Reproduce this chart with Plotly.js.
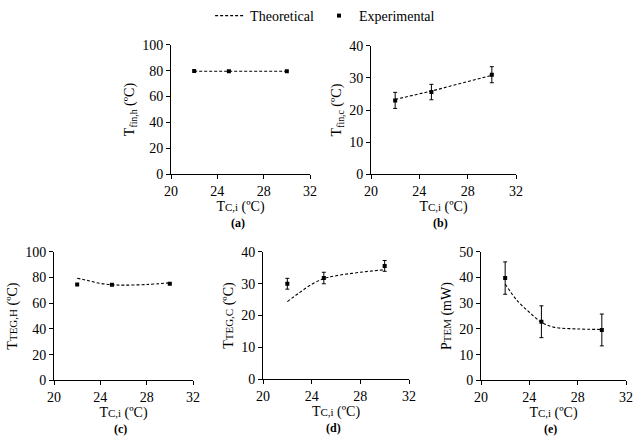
<!DOCTYPE html>
<html>
<head>
<meta charset="utf-8">
<script src="https://cdn.plot.ly/plotly-3.0.1.min.js"></script>
<style>
  html, body { margin: 0; padding: 0; background: #fff; }
  #grafica { width: 640px; height: 446px; }
</style>
</head>
<body>
<div id="grafica"></div>
<script>
// Temperatura de entrada del agua fria (ºC)
const tempExp = [22, 25, 30];
const tempTeo = [22, 23, 24, 25, 26, 28, 30];
const tempTeoRecta = [22, 25, 30];

// (a) T fin,h
const finHExp = [79.8, 79.6, 79.5];
const finHTeo = [79.6, 79.6, 79.6];

// (b) T fin,c
const finCExp = [23.0, 25.6, 31.0];
const finCErr = [2.5, 2.4, 2.5];
const finCTeo = [23.3, 25.9, 30.8];

// (c) T TEG,H
const tegHExp = [74.5, 74.3, 75.2];
const tegHTeo = [79.5, 77.5, 75.4, 74.4, 74.1, 74.6, 75.9];

// (d) T TEG,C
const tegCExp = [30.0, 31.8, 35.6];
const tegCErr = [1.7, 1.8, 1.7];
const tegCTeo = [24.4, 27.2, 29.8, 31.6, 32.5, 33.6, 34.4];

// (e) P TEM
const pTemExp = [39.8, 22.8, 19.6];
const pTemErr = [6.3, 6.2, 6.2];
const pTemTeo = [37.5, 31.0, 26.5, 22.6, 20.7, 20.0, 19.8];

const fuente = "Liberation Serif";
const px = (v) => v / 640;
const py = (v) => 1 - v / 446;
const chica = (t) => "<span style='font-size:11px'>" + t + "</span>";

const paneles = [
  { id: "", x: [171, 310], y: [43, 173], rango: [0, 100], paso: 20,
    titulo: "T<sub>fin,h</sub> (ºC)", etiqueta: "(a)", exp: finHExp, err: null,
    xt: tempTeoRecta, teo: finHTeo, curva: false },
  { id: "2", x: [371, 516], y: [44, 173], rango: [0, 40], paso: 10,
    titulo: "T<sub>fin,c</sub> (ºC)", etiqueta: "(b)", exp: finCExp, err: finCErr,
    xt: tempTeoRecta, teo: finCTeo, curva: false },
  { id: "3", x: [54, 193], y: [251, 380], rango: [0, 100], paso: 20,
    titulo: "T" + chica("TEG,H") + " (ºC)", etiqueta: "(c)", exp: tegHExp, err: null,
    xt: tempTeo, teo: tegHTeo, curva: true },
  { id: "4", x: [263, 409], y: [251, 379], rango: [0, 40], paso: 10,
    titulo: "T" + chica("TEG,C") + " (ºC)", etiqueta: "(d)", exp: tegCExp, err: tegCErr,
    xt: tempTeo, teo: tegCTeo, curva: true },
  { id: "5", x: [481, 626], y: [251, 380], rango: [0, 50], paso: 10,
    titulo: "P" + chica("TEM") + " (mW)", etiqueta: "(e)", exp: pTemExp, err: pTemErr,
    xt: tempTeo, teo: pTemTeo, curva: true }
];

const trazas = [];
const layout = {
  width: 640,
  height: 446,
  margin: { t: 0, b: 0, l: 0, r: 0 },
  paper_bgcolor: "#fff",
  plot_bgcolor: "#fff",
  font: { family: fuente, size: 14, color: "#000" },
  showlegend: true,
  legend: {
    orientation: "h",
    x: 0.508, xanchor: "center",
    y: py(14), yanchor: "middle",
    font: { family: fuente, size: 14, color: "#000" },
    itemwidth: 30,
    tracegroupgap: 0
  },
  annotations: []
};

paneles.forEach((p, i) => {
  const xa = "x" + p.id;
  const ya = "y" + p.id;

  trazas.push({
    type: "scatter",
    mode: "lines",
    x: p.xt,
    y: p.teo,
    xaxis: xa, yaxis: ya,
    name: "Theoretical",
    showlegend: i === 0,
    line: { color: "#000", width: 1.1, dash: "3px,2px", shape: p.curva ? "spline" : "linear" }
  });

  const exp = {
    type: "scatter",
    mode: "markers",
    x: tempExp,
    y: p.exp,
    xaxis: xa, yaxis: ya,
    name: "Experimental",
    showlegend: i === 0,
    marker: { color: "#000", symbol: "square", size: 4 }
  };
  if (p.err) {
    exp.error_y = { type: "data", array: p.err, visible: true, color: "#000", thickness: 1, width: 2 };
  }
  trazas.push(exp);

  layout["xaxis" + p.id] = {
    domain: [px(p.x[0]), px(p.x[1])],
    anchor: ya,
    range: [20, 32],
    tickvals: [20, 24, 28, 32],
    showgrid: false,
    zeroline: false,
    showline: true,
    linecolor: "#000",
    linewidth: 1,
    ticks: "outside",
    ticklen: 4,
    tickcolor: "#000",
    tickfont: { family: fuente, size: 14, color: "#000" },
    title: {
      text: "T" + chica("C,i") + " (ºC)",
      font: { family: fuente, size: 14, color: "#000" },
      standoff: 3
    }
  };
  layout["yaxis" + p.id] = {
    domain: [py(p.y[1]), py(p.y[0])],
    anchor: xa,
    range: p.rango,
    dtick: p.paso,
    showgrid: false,
    zeroline: false,
    showline: true,
    linecolor: "#000",
    linewidth: 1,
    ticks: "outside",
    ticklen: 4,
    tickcolor: "#000",
    tickfont: { family: fuente, size: 14, color: "#000" },
    title: {
      text: p.titulo,
      font: { family: fuente, size: 14, color: "#000" },
      standoff: 4
    }
  };

  layout.annotations.push({
    text: "<b>" + p.etiqueta + "</b>",
    xref: "paper", yref: "paper",
    x: px((p.x[0] + p.x[1]) / 2 - 3),
    y: py(p.y[1] + 49),
    xanchor: "center", yanchor: "middle",
    showarrow: false,
    font: { family: fuente, size: 12, color: "#000" }
  });
});

Plotly.newPlot("grafica", trazas, layout, { staticPlot: true, displayModeBar: false });
</script>
</body>
</html>
